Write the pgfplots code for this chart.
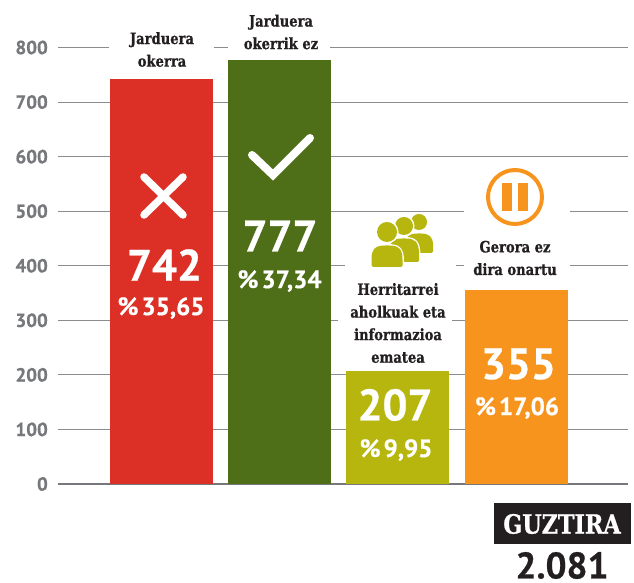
\documentclass[border=0pt]{standalone}
\usepackage{fontspec}
\usepackage{pgfplots}
\pgfplotsset{compat=1.18}
\setmainfont[BoldFeatures={FakeBold=0.6}]{PT Sans}
\newfontfamily\slab[FakeStretch=0.84,BoldFeatures={FakeBold=0.8,FakeStretch=0.84}]{DejaVu Serif}
\definecolor{cred}{HTML}{DC3027}
\definecolor{cgreen}{HTML}{4E6E18}
\definecolor{cyellow}{HTML}{B7B60E}
\definecolor{corange}{HTML}{F7941E}
\definecolor{cdark}{HTML}{231F20}
\definecolor{cgray}{HTML}{77787B}
\newcommand{\gap}[3]{\fill[white] (axis cs:#2,#1-6) rectangle (axis cs:#3,#1+6);}
\tikzset{lab/.style={font=\slab\bfseries\fontsize{15.6}{22.6}\selectfont,text=cdark,align=center,inner sep=0pt},
 big/.style={font=\bfseries\fontsize{44}{44}\selectfont,text=white,inner sep=0pt},
 pct/.style={font=\bfseries\fontsize{25}{25}\selectfont,text=white,inner sep=0pt}}
\begin{document}
\begin{tikzpicture}[x=1pt,y=1pt]
\path[use as bounding box] (0,0) rectangle (634,583);
\begin{axis}[
  at={(58pt,99pt)},anchor=south west,
  scale only axis,width=570pt,height=436.5pt,
  xmin=58,xmax=628,ymin=0,ymax=800,
  axis line style={draw=none},
  xtick=\empty,
  ytick={0,100,200,300,400,500,600,700,800},
  ymajorgrids,
  major grid style={draw=cgray!85,line width=1pt},
  tick style={draw=none},
  /pgf/number format/assume math mode=true,
  yticklabel style={font=\bfseries\fontsize{19}{19}\selectfont,text=cgray,inner sep=0pt,xshift=-10pt},
  clip=false,
]
\gap{800}{109}{214}
\gap{800}{228}{330}
\gap{500}{464}{570}
\gap{400}{345}{456}
\gap{400}{464}{570}
\gap{300}{338}{452}
\draw[cgray,line width=1.5pt] (axis cs:58,0) -- (axis cs:628,0);
\addplot[ybar,bar width=103pt,bar shift=0pt,fill=cred,draw=none] coordinates {(161.5,742)};
\addplot[ybar,bar width=103pt,bar shift=0pt,fill=cgreen,draw=none] coordinates {(279.5,777)};
\addplot[ybar,bar width=103pt,bar shift=0pt,fill=cyellow,draw=none] coordinates {(397.5,207)};
\addplot[ybar,bar width=103pt,bar shift=0pt,fill=corange,draw=none] coordinates {(516.5,355)};
\end{axis}
\begin{scope}[shift={(0,583)},y=-1pt]
% labels
\node[lab] at (162,49.5) {Jarduera\\okerra};
\node[lab] at (281,32) {Jarduera\\okerrik ez};
\node[lab] at (398,323) {Herritarrei\\aholkuak eta\\informazioa\\ematea};
\node[lab] at (515,258) {Gerora ez\\dira onartu};
% values
\node[big] at (164.5,265) {742};
\node[pct] at (161,308) {\%\kern3pt 35,65};
\node[big] at (280,236) {777};
\node[pct] at (279.5,281) {\%\kern3pt 37,34};
\node[big] at (395,405) {207};
\node[pct] at (396,450) {\%\kern3pt 9,95};
\node[big] at (518.5,364) {355};
\node[pct] at (517,408) {\%\kern3pt 17,06};
% X
\draw[white,line width=7.5pt,line cap=round] (144,177)--(183,215) (183,177)--(144,215);
% check
\draw[white,line width=8pt,line cap=round,miter limit=10] (252,155)--(273,175)--(310,138);
% people
\foreach \cx/\cy/\hr/\w/\b in {419/222/8/14/253,404/226/9/15/262,387/232/10/15.5/267}{
  \def\shape{(\cx-\w,\b) -- (\cx-\w,\b-6)
    .. controls (\cx-\w,\cy+\hr+6) and (\cx-\w*0.7,\cy+\hr+3.5) .. (\cx,\cy+\hr+3.5)
    .. controls (\cx+\w*0.7,\cy+\hr+3.5) and (\cx+\w,\cy+\hr+6) .. (\cx+\w,\b-6)
    -- (\cx+\w,\b) -- cycle}
  \draw[white,line width=3pt] (\cx,\cy) circle[radius=\hr];
  \draw[white,line width=3pt] \shape;
  \fill[cyellow] (\cx,\cy) circle[radius=\hr];
  \fill[cyellow,rounded corners=1.5pt] \shape;
}
% pause
\draw[corange,line width=4pt] (515,197) circle[radius=27];
\fill[corange] (502,183) rectangle (512,211);
\fill[corange] (518,183) rectangle (528,211);
% total
\fill[cdark] (494,503) rectangle (631,544);
\node[font=\slab\bfseries\fontsize{26.5}{26.5}\selectfont,text=white,inner sep=0pt] at (562,524) {GUZTIRA};
\node[font=\bfseries\fontsize{37}{37}\selectfont,text=cdark,inner sep=0pt] at (562,565.5) {2.081};
\end{scope}
\end{tikzpicture}
\end{document}
